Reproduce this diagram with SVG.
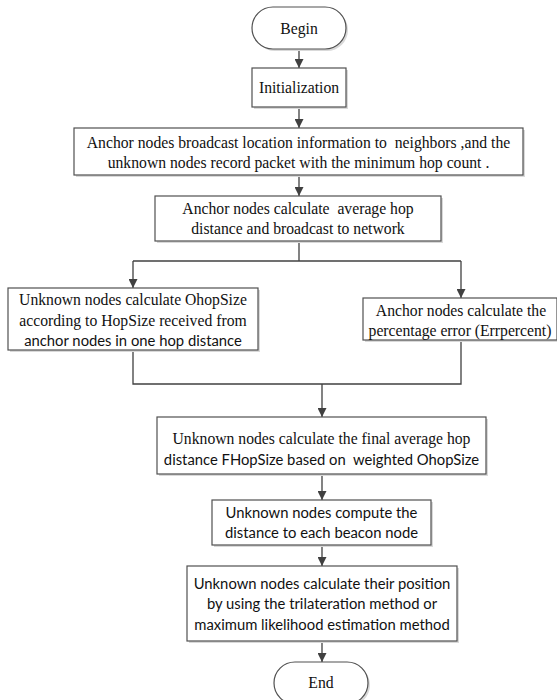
<svg xmlns="http://www.w3.org/2000/svg" width="557" height="700" viewBox="0 0 557 700">
<style>
.box{fill:#fff;stroke:#505050;stroke-width:1.2}
.sh{fill:#d9d9d9;stroke:none}
.se{font-family:"Liberation Serif",serif;font-size:15.7px;fill:#111;text-anchor:middle;white-space:pre}
.sa{font-family:Lato,"Liberation Sans",sans-serif;font-size:14.8px;fill:#111;text-anchor:middle;white-space:pre}
.ln{fill:none;stroke:#404040;stroke-width:1.3}
</style>
<defs>
<marker id="ah" viewBox="0 0 10 10" refX="10" refY="5" markerWidth="9" markerHeight="9" markerUnits="userSpaceOnUse" orient="auto">
<path d="M0,0 L10,5 L0,10 z" fill="#404040"/>
</marker>
</defs>
<rect width="557" height="700" fill="#fff"/>
<g id="connectors">
<path class="ln" d="M299,49 V68" marker-end="url(#ah)"/>
<path class="ln" d="M299,107 V128" marker-end="url(#ah)"/>
<path class="ln" d="M299,175 V196" marker-end="url(#ah)"/>
<path class="ln" d="M299,241 V261"/>
<path class="ln" d="M133,261 H461"/>
<path class="ln" d="M133,261 V288" marker-end="url(#ah)"/>
<path class="ln" d="M461,261 V298" marker-end="url(#ah)"/>
<path class="ln" d="M133,350 V384 H461 V340"/>
<path class="ln" d="M322,384 V417" marker-end="url(#ah)"/>
<path class="ln" d="M322,474 V500" marker-end="url(#ah)"/>
<path class="ln" d="M322,545 V566" marker-end="url(#ah)"/>
<path class="ln" d="M322,641 V662" marker-end="url(#ah)"/>
</g>
<g id="begin">
<rect class="sh" x="254" y="9" width="94" height="42" rx="21"/>
<rect class="box" x="252" y="7" width="94" height="42" rx="21"/>
<text class="se" x="299" y="33.5">Begin</text>
</g>
<g id="init">
<rect class="sh" x="254" y="70" width="94" height="39"/>
<rect class="box" x="252" y="68" width="94" height="39"/>
<text class="se" x="299" y="93">Initialization</text>
</g>
<g id="broadcast">
<rect class="sh" x="76" y="130" width="449" height="47"/>
<rect class="box" x="74" y="128" width="449" height="47"/>
<text class="se" x="298.5" y="147.5" xml:space="preserve">Anchor nodes broadcast location information to  neighbors ,and the</text>
<text class="se" x="298.5" y="168">unknown nodes record packet with the minimum hop count .</text>
</g>
<g id="avghop">
<rect class="sh" x="157" y="198" width="286" height="45"/>
<rect class="box" x="155" y="196" width="286" height="45"/>
<text class="se" x="298" y="214" xml:space="preserve">Anchor nodes calculate  average hop</text>
<text class="se" x="298" y="233.5">distance and broadcast to network</text>
</g>
<g id="ohop">
<rect class="sh" x="10" y="290" width="250" height="62"/>
<rect class="box" x="8" y="288" width="250" height="62"/>
<text class="se" x="133" y="305">Unknown nodes calculate OhopSize</text>
<text class="se" x="133" y="326">according to HopSize received from</text>
<text class="sa" x="133" y="346">anchor nodes in one hop distance</text>
</g>
<g id="errpercent">
<rect class="sh" x="365" y="300" width="194" height="42"/>
<rect class="box" x="363" y="298" width="194" height="42"/>
<text class="se" x="461" y="316">Anchor nodes calculate the</text>
<text class="se" x="460" y="336">percentage error (Errpercent)</text>
</g>
<g id="fhop">
<rect class="sh" x="159" y="419" width="329" height="57"/>
<rect class="box" x="157" y="417" width="329" height="57"/>
<text class="se" x="321.5" y="443.5">Unknown nodes calculate the final average hop</text>
<text class="sa" x="321.5" y="465" xml:space="preserve">distance FHopSize based on  weighted OhopSize</text>
</g>
<g id="distance">
<rect class="sh" x="214" y="502" width="219" height="45"/>
<rect class="box" x="212" y="500" width="219" height="45"/>
<text class="sa" x="321.5" y="517.5">Unknown nodes compute the</text>
<text class="sa" x="321.5" y="538">distance to each beacon node</text>
</g>
<g id="position">
<rect class="sh" x="189" y="568" width="270" height="75"/>
<rect class="box" x="187" y="566" width="270" height="75"/>
<text class="sa" x="322" y="588.5">Unknown nodes calculate their position</text>
<text class="sa" x="322" y="609">by using the trilateration method or</text>
<text class="sa" x="322" y="629.5">maximum likelihood estimation method</text>
</g>
<g id="end">
<rect class="sh" x="276" y="664" width="94" height="42" rx="21"/>
<rect class="box" x="274" y="662" width="94" height="42" rx="21"/>
<text class="se" x="321" y="687.5">End</text>
</g>
</svg>
